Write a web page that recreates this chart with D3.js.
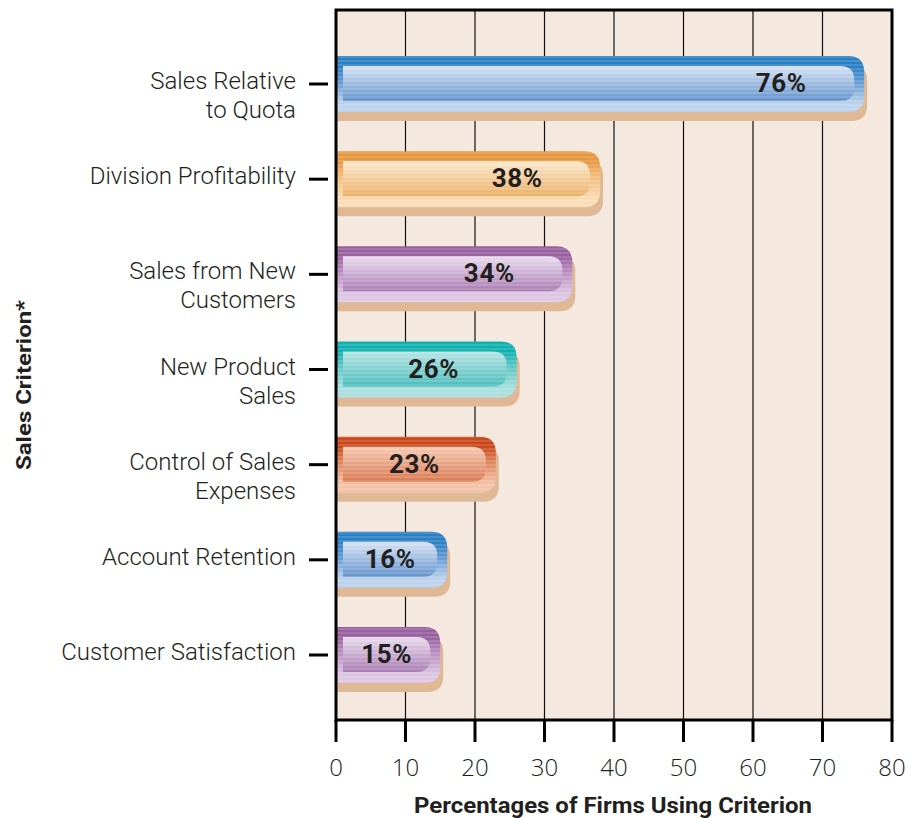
<!DOCTYPE html>
<html><head><meta charset="utf-8">
<script src="https://cdn.jsdelivr.net/npm/d3@7"></script>
<style>body{margin:0;background:#fff}svg{display:block}</style>
</head><body>
<script>
const categories = [
  ["Sales Relative", "to Quota"],
  ["Division Profitability"],
  ["Sales from New", "Customers"],
  ["New Product", "Sales"],
  ["Control of Sales", "Expenses"],
  ["Account Retention"],
  ["Customer Satisfaction"]
];
const values = [76, 38, 34, 26, 23, 16, 15];
const palettes = ["blue", "orange", "purple", "teal", "red", "blue", "purple"];
const xTicks = [0, 10, 20, 30, 40, 50, 60, 70, 80];
const xTitle = "Percentages of Firms Using Criterion";
const yTitle = "Sales Criterion*";

const colors = {
  blue:   {dark:"#2b80c4", mid:"#5f98d2", light:"#bdd2ec", inTop:"#d7e3f4", inBot:"#6393cd"},
  orange: {dark:"#e6983f", mid:"#f0bd7a", light:"#f8dcb4", inTop:"#fbe9cf", inBot:"#ecb066"},
  purple: {dark:"#99609f", mid:"#b88cc0", light:"#dcc6e2", inTop:"#e9dcee", inBot:"#a97cb3"},
  teal:   {dark:"#0fb0ad", mid:"#5cc6c4", light:"#a9dfde", inTop:"#b7e4e4", inBot:"#4bbcbb"},
  red:    {dark:"#c9481a", mid:"#e0845a", light:"#f2c3a6", inTop:"#f5cbb3", inBot:"#da7850"}
};

const W = 912, H = 818;
const svg = d3.select("body").append("svg").attr("width", W).attr("height", H);
const defs = svg.append("defs");

const x0 = 336, x1 = 892, yTop = 10, yBot = 720;
const x = d3.scaleLinear().domain([0, 80]).range([x0, x1]);
const y = d3.scalePoint().domain(d3.range(categories.length)).range([84, 655]).padding(0);

Object.entries(colors).forEach(([k, c]) => {
  const g = defs.append("linearGradient").attr("id", "out-" + k).attr("x1", 0).attr("x2", 0).attr("y1", 0).attr("y2", 1);
  g.append("stop").attr("offset", 0).attr("stop-color", c.dark);
  g.append("stop").attr("offset", 0.18).attr("stop-color", c.dark);
  g.append("stop").attr("offset", 0.45).attr("stop-color", c.mid);
  g.append("stop").attr("offset", 0.85).attr("stop-color", c.light);
  g.append("stop").attr("offset", 1).attr("stop-color", c.light);
  const gi = defs.append("linearGradient").attr("id", "in-" + k).attr("x1", 0).attr("x2", 0).attr("y1", 0).attr("y2", 1);
  gi.append("stop").attr("offset", 0).attr("stop-color", c.inTop);
  gi.append("stop").attr("offset", 1).attr("stop-color", c.inBot);
});
const pat = defs.append("pattern").attr("id", "stripes").attr("patternUnits", "userSpaceOnUse")
  .attr("width", 8).attr("height", 4);
pat.append("rect").attr("width", 8).attr("height", 2).attr("fill", "#fff").attr("opacity", 0.13);

svg.append("rect").attr("x", x0).attr("y", yTop).attr("width", x1 - x0).attr("height", yBot - yTop).attr("fill", "#f5e8df");

svg.append("g").selectAll("line").data(xTicks.slice(1, -1)).join("line")
  .attr("x1", d => x(d)).attr("x2", d => x(d)).attr("y1", yTop).attr("y2", yBot)
  .attr("stroke", "#111").attr("stroke-width", 1.2);

function barPath(xs, xe, yt, h, r) {
  return `M${xs},${yt} H${xe - r} Q${xe},${yt} ${xe},${yt + r} V${yt + h - r} Q${xe},${yt + h} ${xe - r},${yt + h} H${xs} Z`;
}

const bh = 56;
const bars = svg.append("g").selectAll("g").data(values).join("g");
bars.each(function(v, i) {
  const g = d3.select(this);
  const k = palettes[i];
  const yc = y(i);
  const yt = yc - bh / 2;
  const xe = x(v);
  const xs = x0 + 1;
  g.append("path").attr("d", barPath(xs, xe + 3, yt + 9, bh, 16)).attr("fill", "#dfb895");
  g.append("path").attr("d", barPath(xs, xe, yt, bh, 16)).attr("fill", `url(#out-${k})`);
  g.append("path").attr("d", barPath(xs, xe, yt, bh, 16)).attr("fill", "url(#stripes)");
  g.append("path").attr("d", barPath(x0 + 7, xe - 10, yt + 10, 35, 14)).attr("fill", `url(#in-${k})`);
  g.append("path").attr("d", barPath(x0 + 7, xe - 10, yt + 10, 35, 14)).attr("fill", "url(#stripes)");
  const lx = Math.max((x0 + 7 + xe - 10) / 2, xe - 83);
  g.append("text").attr("x", lx).attr("y", yc + 8).attr("text-anchor", "middle")
    .attr("font-family", "Roboto, 'Liberation Sans', sans-serif").attr("font-weight", 700)
    .attr("font-size", 26).attr("letter-spacing", 0.6).attr("fill", "#231f20").text(v + "%");
});

svg.append("rect").attr("x", x0).attr("y", yTop).attr("width", x1 - x0).attr("height", yBot - yTop)
  .attr("fill", "none").attr("stroke", "#000").attr("stroke-width", 3);

const xa = svg.append("g");
xa.selectAll("line").data(xTicks).join("line")
  .attr("x1", d => x(d)).attr("x2", d => x(d)).attr("y1", yBot).attr("y2", 742)
  .attr("stroke", "#000").attr("stroke-width", 3);
xa.selectAll("text").data(xTicks).join("text")
  .attr("x", d => x(d)).attr("y", 776).attr("text-anchor", "middle")
  .attr("font-family", "'Open Sans', 'Liberation Sans', sans-serif").attr("font-weight", 300)
  .attr("font-size", 24).attr("fill", "#231f20").text(d => d);

svg.append("text").attr("x", 613).attr("y", 813).attr("text-anchor", "middle")
  .attr("font-family", "'Liberation Sans Narrow', 'Roboto', sans-serif").attr("font-weight", 700)
  .attr("font-size", 22).attr("fill", "#231f20")
  .attr("textLength", 398).attr("lengthAdjust", "spacingAndGlyphs").text(xTitle);

const ya = svg.append("g");
categories.forEach((lines, i) => {
  const yc = y(i);
  ya.append("line").attr("x1", 309).attr("x2", 328).attr("y1", yc).attr("y2", yc)
    .attr("stroke", "#000").attr("stroke-width", 3);
  const t = ya.append("text").attr("text-anchor", "end")
    .attr("font-family", "Roboto, 'Liberation Sans', sans-serif").attr("font-weight", 300)
    .attr("font-size", 24).attr("fill", "#231f20");
  lines.forEach((ln, j) => {
    t.append("tspan").attr("x", 296).attr("y", yc + 5 + j * 29).text(ln);
  });
});

svg.append("text").attr("transform", "translate(31,385) rotate(-90)").attr("text-anchor", "middle")
  .attr("font-family", "'Liberation Sans Narrow', 'Roboto', sans-serif").attr("font-weight", 700)
  .attr("font-size", 21).attr("fill", "#231f20")
  .attr("textLength", 170).attr("lengthAdjust", "spacingAndGlyphs").text(yTitle);
</script>
</body></html>
